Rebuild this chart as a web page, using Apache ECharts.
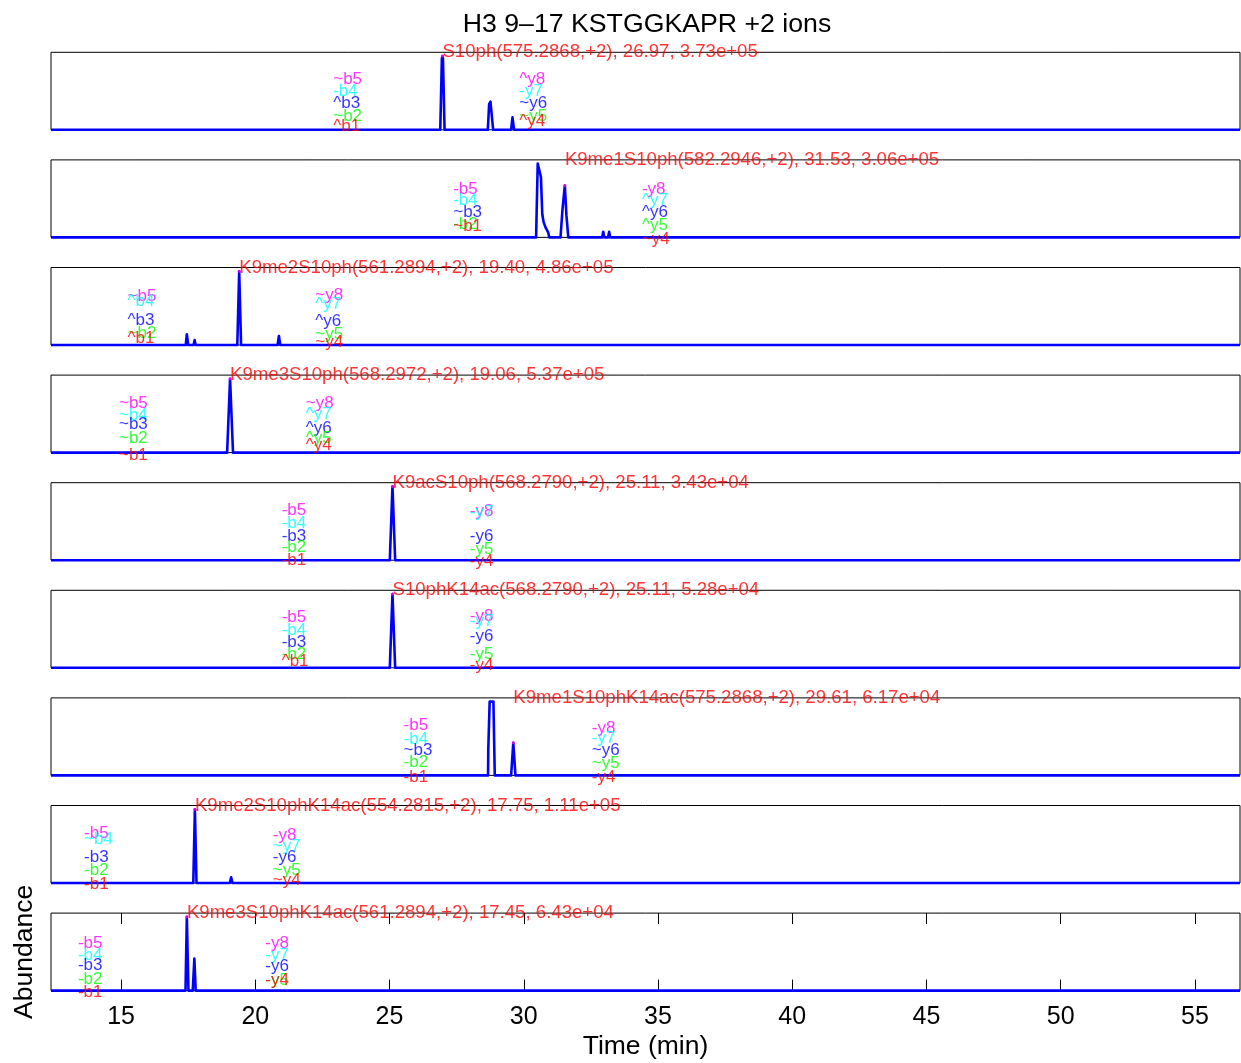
<!DOCTYPE html>
<html>
<head>
<meta charset="utf-8">
<script src="https://cdn.jsdelivr.net/npm/echarts@6/dist/echarts.min.js"></script>
<style>
  html, body { margin: 0; padding: 0; background: #fff; }
  #chart { width: 1241px; height: 1063px; }
</style>
</head>
<body>
<div id="chart"></div>
<script>
// ---- Text ----
const TITLE = 'H3 9–17 KSTGGKAPR +2 ions';
const X_LABEL = 'Time (min)';
const Y_LABEL = 'Abundance';

// ---- Time axis ----
const TIME_RANGE = [12.39, 56.68];
const TIME_TICKS = [15, 20, 25, 30, 35, 40, 45, 50, 55];

// ---- Peptide forms, one per panel ----
const peptides = ['S10ph', 'K9me1S10ph', 'K9me2S10ph', 'K9me3S10ph', 'K9acS10ph',
                  'S10phK14ac', 'K9me1S10phK14ac', 'K9me2S10phK14ac', 'K9me3S10phK14ac'];
const precursorMz = ['575.2868', '582.2946', '561.2894', '568.2972', '568.2790',
                     '568.2790', '575.2868', '554.2815', '561.2894'];
const apexTime = [26.97, 31.53, 19.40, 19.06, 25.11, 25.11, 29.61, 17.75, 17.45];
const apexAbundance = [3.73e5, 3.06e5, 4.86e5, 5.37e5, 3.43e4, 5.28e4, 6.17e4, 1.11e5, 6.43e4];

// ---- Extracted ion chromatograms: [time (min), abundance] ----
const xicS10ph = [[12.39, 0], [26.89, 0], [26.95, 3.6e5], [26.97, 3.73e5], [26.99, 3.6e5], [27.05, 0],
  [28.66, 0], [28.68, 4.6e4], [28.71, 1.30e5], [28.76, 1.42e5], [28.83, 1.42e5], [28.86, 0],
  [29.53, 0], [29.58, 6.3e4], [29.64, 0], [56.68, 0]];
const xicK9me1S10ph = [[12.39, 0], [30.46, 0], [30.52, 4.35e5], [30.59, 4.25e5], [30.64, 3.55e5],
  [30.69, 1.36e5], [30.74, 9.0e4], [30.81, 5.9e4], [30.86, 5.0e4], [30.91, 3.0e4], [30.95, 0],
  [31.37, 0], [31.44, 1.6e5], [31.53, 3.06e5], [31.59, 1.28e5], [31.66, 0],
  [32.92, 0], [32.96, 3.3e4], [33.00, 0], [33.14, 0], [33.18, 3.3e4], [33.22, 0], [56.68, 0]];
const xicK9me2S10ph = [[12.39, 0], [17.41, 0], [17.45, 7.1e4], [17.50, 0], [17.70, 0], [17.74, 3.2e4],
  [17.78, 0], [19.33, 0], [19.40, 4.86e5], [19.47, 0], [20.83, 0], [20.88, 5.9e4], [20.93, 0], [56.68, 0]];
const xicK9me3S10ph = [[12.39, 0], [18.95, 0], [19.06, 5.37e5], [19.17, 0], [56.68, 0]];
const xicK9acS10ph = [[12.39, 0], [25.01, 0], [25.11, 3.43e4], [25.21, 0], [56.68, 0]];
const xicS10phK14ac = [[12.39, 0], [25.01, 0], [25.11, 5.28e4], [25.21, 0], [56.68, 0]];
const xicK9me1S10phK14ac = [[12.39, 0], [28.67, 0], [28.68, 5.2e4], [28.73, 1.40e5], [28.87, 1.40e5],
  [28.92, 0], [29.53, 0], [29.61, 6.17e4], [29.69, 0], [56.68, 0]];
const xicK9me2S10phK14ac = [[12.39, 0], [17.69, 0], [17.75, 1.11e5], [17.81, 0], [19.05, 0],
  [19.10, 8.5e3], [19.15, 0], [56.68, 0]];
const xicK9me3S10phK14ac = [[12.39, 0], [17.40, 0], [17.45, 6.43e4], [17.51, 0], [17.67, 0],
  [17.73, 2.8e4], [17.78, 0], [56.68, 0]];
const traces = [xicS10ph, xicK9me1S10ph, xicK9me2S10ph, xicK9me3S10ph, xicK9acS10ph,
                xicS10phK14ac, xicK9me1S10phK14ac, xicK9me2S10phK14ac, xicK9me3S10phK14ac];

// ---- Fragment ion annotations ----
const bIons = ['b5', 'b4', 'b3', 'b2', 'b1'];
const yIons = ['y8', 'y7', 'y6', 'y5', 'y4'];
const ionColors = ['#ff00ff', '#00ffff', '#0000ff', '#00ff00', '#ff0000'];
const bLabelTime = [22.90, 27.37, 15.24, 14.92, 20.98, 20.98, 25.52, 13.62, 13.39];
const yLabelTime = [29.83, 34.40, 22.23, 21.88, 27.99, 27.99, 32.53, 20.65, 20.37];
// level of each label as a share of the panel height (b5..b1 / y8..y4)
const bLabelLevel = [
  [0.65, 0.50, 0.34, 0.17, 0.04], [0.62, 0.48, 0.33, 0.165, 0.14], [0.63, 0.56, 0.32, 0.15, 0.09],
  [0.63, 0.48, 0.36, 0.18, -0.03], [0.64, 0.48, 0.31, 0.16, 0.0], [0.65, 0.48, 0.33, 0.17, 0.09],
  [0.64, 0.47, 0.32, 0.17, -0.02], [0.635, 0.56, 0.33, 0.16, -0.02], [0.61, 0.46, 0.33, 0.14, -0.02]];
const yLabelLevel = [
  [0.65, 0.50, 0.34, 0.17, 0.11], [0.62, 0.48, 0.33, 0.15, -0.02], [0.64, 0.52, 0.30, 0.14, 0.04],
  [0.63, 0.49, 0.31, 0.18, 0.10], [0.63, 0.62, 0.31, 0.14, -0.01], [0.66, 0.60, 0.40, 0.17, 0.03],
  [0.61, 0.48, 0.32, 0.16, -0.02], [0.62, 0.47, 0.33, 0.16, 0.04], [0.61, 0.46, 0.31, 0.13, 0.13]];
const bMarks = ['~-^~^', '--~-~', '~^^~^', '~~~~~', '-----', '----^', '--~--', '-~---', '-----'];
const yMarks = ['^-~~^', '-^^^~', '~^^~~', '~^^^^', '-----', '-----', '--~~-', '-~-~~', '-----'];

// ---- Layout ----
const FONT = '"Liberation Sans", Arial, Helvetica, sans-serif';
const PANEL_TOP0 = 52.3, PANEL_STEP = 107.6, PANEL_H = 77.5;
const PLOT_LEFT = 51, PLOT_RIGHT = 1;
const HEADROOM = 1.05;

function sciLabel(v) {
  const parts = v.toExponential(2).split('e');
  const sign = parts[1][0];
  const exp = parts[1].slice(1).padStart(2, '0');
  return parts[0] + 'e' + sign + exp;
}

const n = peptides.length;
const grids = [], xAxes = [], yAxes = [], series = [];

for (let i = 0; i < n; i++) {
  const last = i === n - 1;
  const yTop = Math.max.apply(null, traces[i].map(p => p[1])) * HEADROOM;

  grids.push({
    left: PLOT_LEFT, right: PLOT_RIGHT, top: PANEL_TOP0 + PANEL_STEP * i, height: PANEL_H,
    show: true, borderColor: '#000', borderWidth: 1, backgroundColor: 'transparent'
  });

  xAxes.push({
    gridIndex: i, type: 'value', min: TIME_RANGE[0], max: TIME_RANGE[1],
    axisLine: { show: false }, splitLine: { show: false },
    axisTick: last ? { show: true, inside: true, length: 11, customValues: TIME_TICKS,
                       lineStyle: { color: '#000', width: 1 } } : { show: false },
    axisLabel: last ? { show: true, customValues: TIME_TICKS, fontSize: 25, color: '#000',
                        fontFamily: FONT, margin: 14 } : { show: false },
    name: last ? X_LABEL : '', nameLocation: 'middle', nameGap: 43,
    nameTextStyle: { fontSize: 26.5, color: '#000', fontFamily: FONT }
  });

  yAxes.push({
    gridIndex: i, type: 'value', min: 0, max: yTop,
    axisLine: { show: false }, axisTick: { show: false }, axisLabel: { show: false },
    splitLine: { show: false },
    name: last ? Y_LABEL : '', nameLocation: 'middle', nameGap: 13, nameRotate: 90,
    nameTextStyle: { fontSize: 26.5, color: '#000', fontFamily: FONT }
  });

  // chromatogram trace
  series.push({
    type: 'line', xAxisIndex: i, yAxisIndex: i, data: traces[i],
    showSymbol: false, symbol: 'none', clip: false, z: 2,
    lineStyle: { color: '#0000ff', width: 2.6, join: 'round' }
  });

  // apex marker of the annotated peak
  series.push({
    type: 'scatter', xAxisIndex: i, yAxisIndex: i, clip: false, z: 3,
    data: [[apexTime[i], apexAbundance[i]]], symbolSize: 3,
    itemStyle: { color: '#ff00ff' }
  });

  // fragment ion labels
  const ionItems = [];
  for (let k = 0; k < 5; k++) {
    ionItems.push({
      value: [bLabelTime[i], bLabelLevel[i][k] * yTop],
      label: { formatter: bMarks[i][k] + bIons[k], color: ionColors[k] }
    });
    ionItems.push({
      value: [yLabelTime[i], yLabelLevel[i][k] * yTop],
      label: { formatter: yMarks[i][k] + yIons[k], color: ionColors[k] }
    });
  }
  series.push({
    type: 'scatter', xAxisIndex: i, yAxisIndex: i, clip: false, z: 4,
    data: ionItems, symbolSize: 0.1, itemStyle: { color: 'rgba(0,0,0,0)' },
    label: { show: true, position: 'right', distance: 0, fontSize: 17, fontFamily: FONT }
  });

  // precursor annotation on the top edge
  series.push({
    type: 'scatter', xAxisIndex: i, yAxisIndex: i, clip: false, z: 5,
    data: [[apexTime[i], yTop]], symbolSize: 0.1, itemStyle: { color: 'rgba(0,0,0,0)' },
    label: {
      show: true, position: 'right', distance: 0, fontSize: 18.6, fontFamily: FONT, color: '#ff0000',
      formatter: peptides[i] + '(' + precursorMz[i] + ',+2), ' + apexTime[i].toFixed(2) + ', ' +
                 sciLabel(apexAbundance[i])
    }
  });
}

// mirrored ticks along the top edge of the bottom panel
xAxes.push({
  gridIndex: n - 1, type: 'value', position: 'top', min: TIME_RANGE[0], max: TIME_RANGE[1],
  axisLine: { show: false }, splitLine: { show: false }, axisLabel: { show: false },
  axisTick: { show: true, inside: true, length: 11, customValues: TIME_TICKS,
              lineStyle: { color: '#000', width: 1 } }
});

const chart = echarts.init(document.getElementById('chart'), null, { renderer: 'canvas' });
chart.setOption({
  animation: false,
  backgroundColor: '#fff',
  title: {
    text: TITLE, left: 642, top: 6, textAlign: 'center',
    textStyle: { fontSize: 26.7, fontWeight: 'normal', color: '#000', fontFamily: FONT }
  },
  grid: grids,
  xAxis: xAxes,
  yAxis: yAxes,
  series: series
});
</script>
</body>
</html>
